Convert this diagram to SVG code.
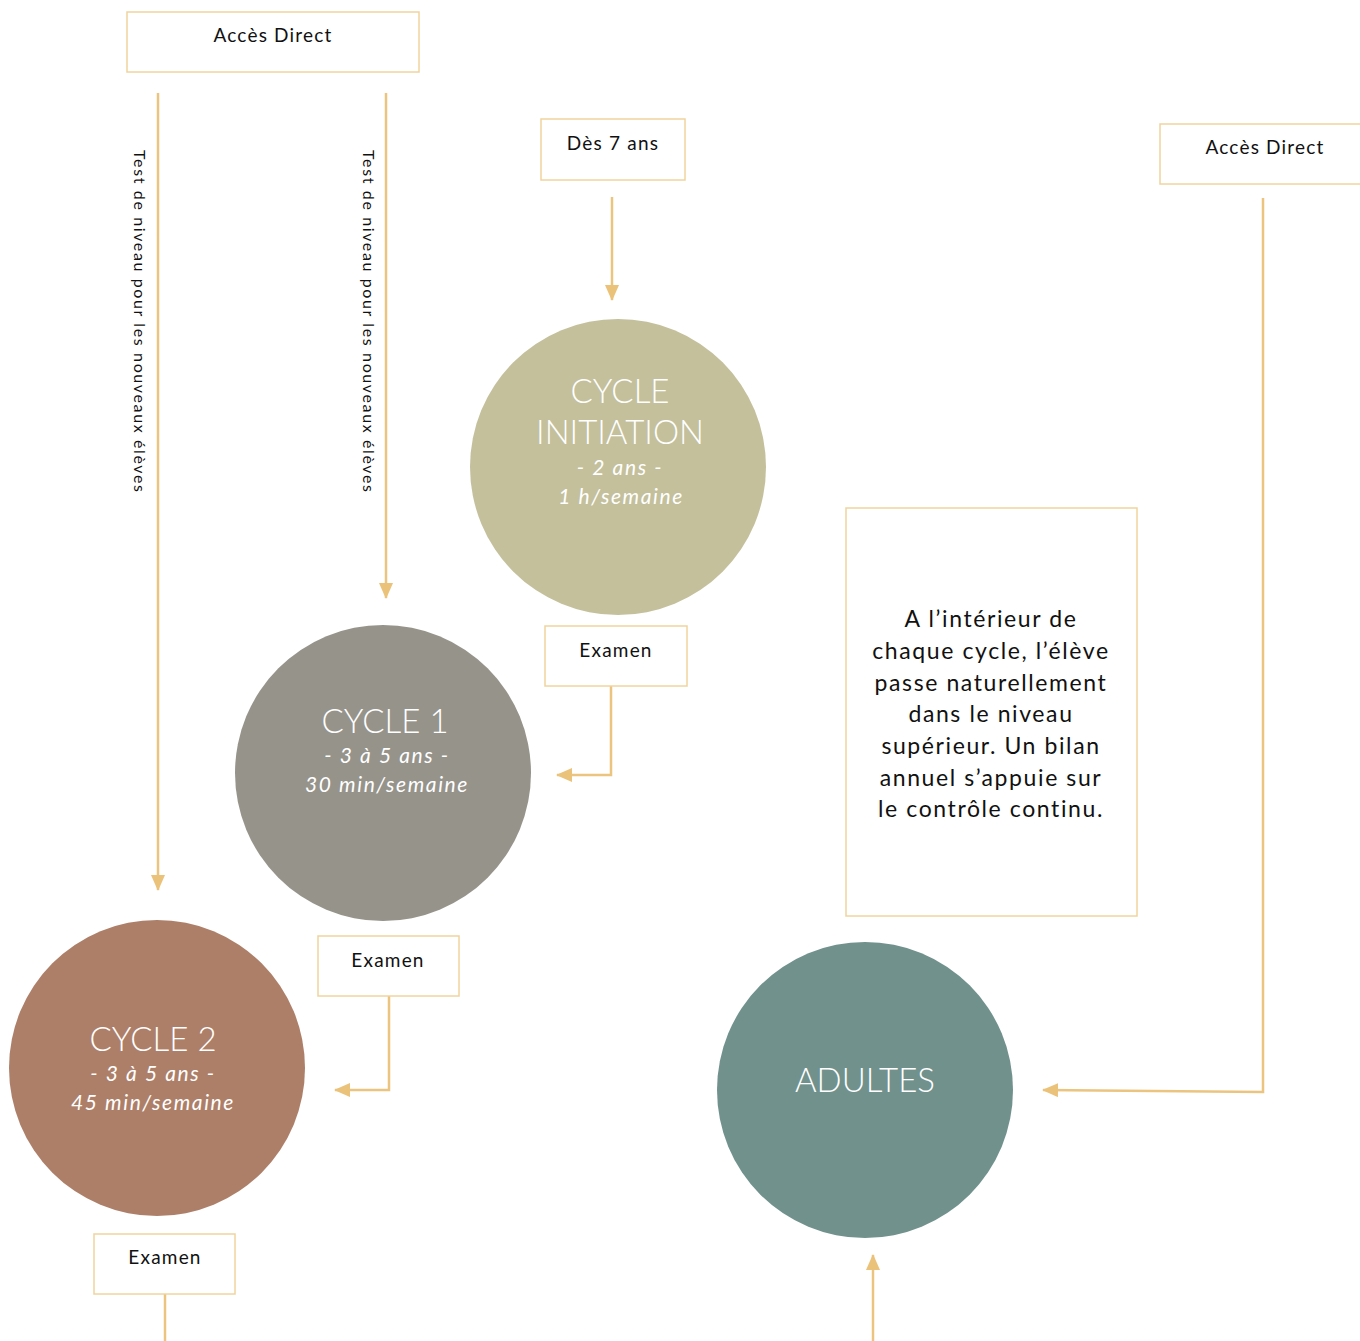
<svg xmlns="http://www.w3.org/2000/svg" width="1360" height="1341" viewBox="0 0 1360 1341">
<defs>
<marker id="ah" markerWidth="16" markerHeight="14" refX="15" refY="7" orient="auto" markerUnits="userSpaceOnUse">
<path d="M0,0 L16,7 L0,14 Z" fill="#ebc27a"/>
</marker>
<style>
.box{fill:#fff;stroke:#f0d49e;stroke-width:1.5}
.lbl{font-family:Lato,"Noto Sans",sans-serif;font-size:19px;fill:#111;text-anchor:middle;letter-spacing:1.2px}
.conn{fill:none;stroke:#ebc47f;stroke-width:2.5}
.rot{font-family:Lato,"Noto Sans",sans-serif;font-size:16px;fill:#111}
.t1{font-family:Lato,"Noto Sans",sans-serif;font-weight:300;font-size:33px;fill:#fff;text-anchor:middle}
.t2{font-family:Lato,"Noto Sans",sans-serif;font-style:italic;font-size:21px;fill:#fff;text-anchor:middle;letter-spacing:1.6px}
.note{font-family:Lato,"Noto Sans",sans-serif;font-size:23px;fill:#111;text-anchor:middle;letter-spacing:1.6px}
</style>
</defs>
<g id="connectors">
<line class="conn" x1="158" y1="93" x2="158" y2="890" marker-end="url(#ah)"/>
<line class="conn" x1="386" y1="93" x2="386" y2="598" marker-end="url(#ah)"/>
<line class="conn" x1="612" y1="197" x2="612" y2="300" marker-end="url(#ah)"/>
<polyline class="conn" points="611,686 611,775 557,775" marker-end="url(#ah)"/>
<polyline class="conn" points="389,996 389,1090 335,1090" marker-end="url(#ah)"/>
<line class="conn" x1="165" y1="1294" x2="165" y2="1341" stroke-width="1.5"/>
<line class="conn" x1="873" y1="1341" x2="873" y2="1255" marker-end="url(#ah)"/>
<polyline class="conn" points="1263,198 1263,1092 1043,1090" marker-end="url(#ah)"/>
<text class="rot" transform="translate(134,150) rotate(90)" textLength="342" lengthAdjust="spacing">Test de niveau pour les nouveaux élèves</text>
<text class="rot" transform="translate(363,150) rotate(90)" textLength="342" lengthAdjust="spacing">Test de niveau pour les nouveaux élèves</text>
</g>
<g id="acces-direct-1"><rect class="box" x="127" y="12" width="292" height="60"/><text class="lbl" x="273" y="42">Accès Direct</text></g>
<g id="des-7-ans"><rect class="box" x="541" y="119" width="144" height="61"/><text class="lbl" x="613" y="150">Dès 7 ans</text></g>
<g id="acces-direct-2"><rect class="box" x="1160" y="124" width="210" height="60"/><text class="lbl" x="1265" y="154">Accès Direct</text></g>
<g id="cycle-initiation"><circle cx="618" cy="467" r="148" fill="#c4c09c"/><text class="t1" x="620" y="403">CYCLE</text><text class="t1" x="620" y="444">INITIATION</text><text class="t2" x="620" y="475">- 2 ans -</text><text class="t2" x="621" y="504">1 h/semaine</text></g>
<g id="examen-1"><rect class="box" x="545" y="626" width="142" height="60"/><text class="lbl" x="616" y="657">Examen</text></g>
<g id="cycle-1"><circle cx="383" cy="773" r="148" fill="#96938b"/><text class="t1" x="385" y="733">CYCLE 1</text><text class="t2" x="387" y="763">- 3 à 5 ans -</text><text class="t2" x="387" y="792">30 min/semaine</text></g>
<g id="examen-2"><rect class="box" x="318" y="936" width="141" height="60"/><text class="lbl" x="388" y="967">Examen</text></g>
<g id="cycle-2"><circle cx="157" cy="1068" r="148" fill="#ad7f68"/><text class="t1" x="153" y="1051">CYCLE 2</text><text class="t2" x="153" y="1081">- 3 à 5 ans -</text><text class="t2" x="153" y="1110">45 min/semaine</text></g>
<g id="examen-3"><rect class="box" x="94" y="1234" width="141" height="60"/><text class="lbl" x="165" y="1264">Examen</text></g>
<g id="note"><rect class="box" x="846" y="508" width="291" height="408"/>
<text class="note" x="991" y="627">A l’intérieur de</text>
<text class="note" x="991" y="659">chaque cycle, l’élève</text>
<text class="note" x="991" y="691">passe naturellement</text>
<text class="note" x="991" y="722">dans le niveau</text>
<text class="note" x="991" y="754">supérieur. Un bilan</text>
<text class="note" x="991" y="786">annuel s’appuie sur</text>
<text class="note" x="991" y="817">le contrôle continu.</text>
</g>
<g id="adultes"><circle cx="865" cy="1090" r="148" fill="#71918c"/><text class="t1" x="865" y="1092">ADULTES</text></g>
</svg>
